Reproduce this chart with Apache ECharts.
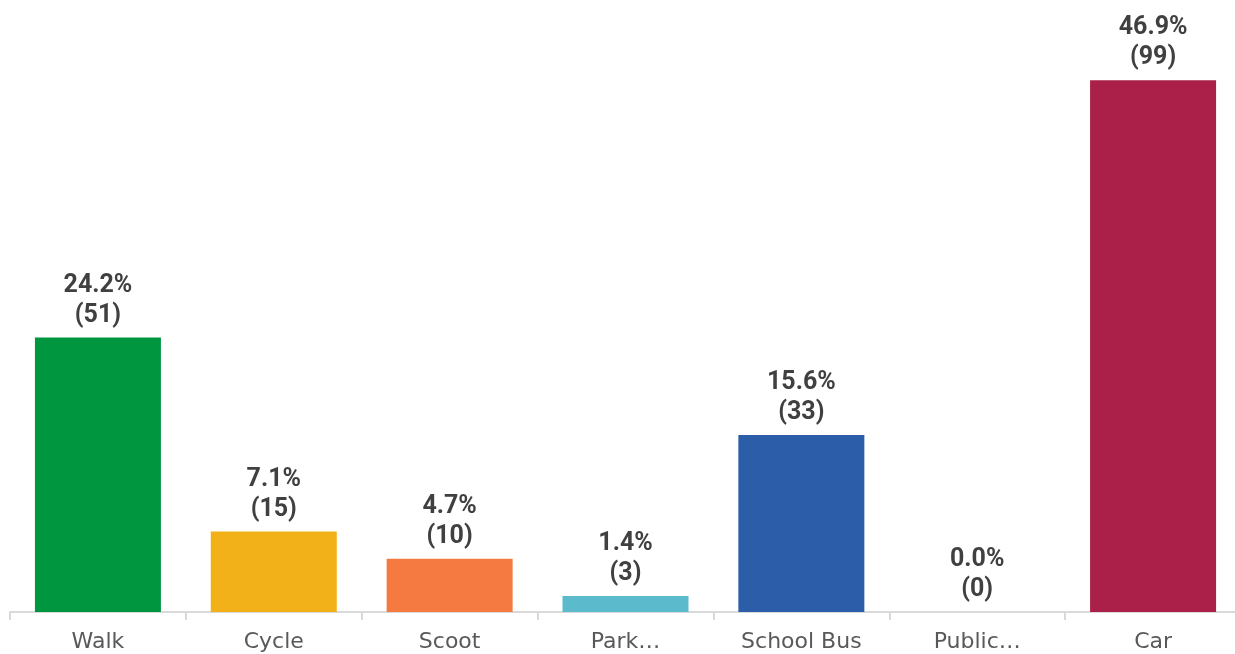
<!DOCTYPE html>
<html>
<head>
<meta charset="utf-8">
<script src="https://cdn.jsdelivr.net/npm/echarts@6/dist/echarts.min.js"></script>
<style>
  html, body { margin: 0; padding: 0; background: #ffffff; }
  #chart { width: 1235px; height: 654px; }
</style>
</head>
<body>
<div id="chart"></div>
<script>
// Travel mode shares: percentage of respondents and head counts
const categories = ['Walk', 'Cycle', 'Scoot', 'Park…', 'School Bus', 'Public…', 'Car'];
const percentages = [24.2, 7.1, 4.7, 1.4, 15.6, 0.0, 46.9];
const counts = [51, 15, 10, 3, 33, 0, 99];
const barColors = ['#009640', '#F2B118', '#F47A42', '#5BBACB', '#2C5DA8', '#7F7F7F', '#AA2049'];

const chart = echarts.init(document.getElementById('chart'), null, { renderer: 'canvas' });

chart.setOption({
  animation: false,
  backgroundColor: '#ffffff',
  // the plot runs a few pixels past the right edge of the canvas
  grid: { left: 10, width: 1231, top: 45, bottom: 42, containLabel: false, outerBoundsMode: 'none' },
  xAxis: {
    type: 'category',
    data: categories,
    axisLine: { lineStyle: { color: '#D9D9D9', width: 2 } },
    axisTick: { show: true, length: 8, lineStyle: { color: '#D9D9D9', width: 2 } },
    axisLabel: {
      color: '#595959',
      fontFamily: 'DejaVu Sans',
      fontSize: 22,
      margin: 19,
      interval: 0
    }
  },
  yAxis: {
    type: 'value',
    min: 0,
    max: 50,
    show: false,
    splitLine: { show: false }
  },
  series: [{
    type: 'bar',
    barWidth: 126,
    data: percentages.map((v, i) => ({ value: v, itemStyle: { color: barColors[i] } })),
    label: {
      show: true,
      position: 'top',
      distance: 7,
      color: '#404040',
      fontFamily: 'Roboto',
      fontWeight: 'bold',
      fontSize: 25,
      lineHeight: 30,
      formatter: p => p.value.toFixed(1) + '%\n(' + counts[p.dataIndex] + ')'
    }
  }]
});
</script>
</body>
</html>
